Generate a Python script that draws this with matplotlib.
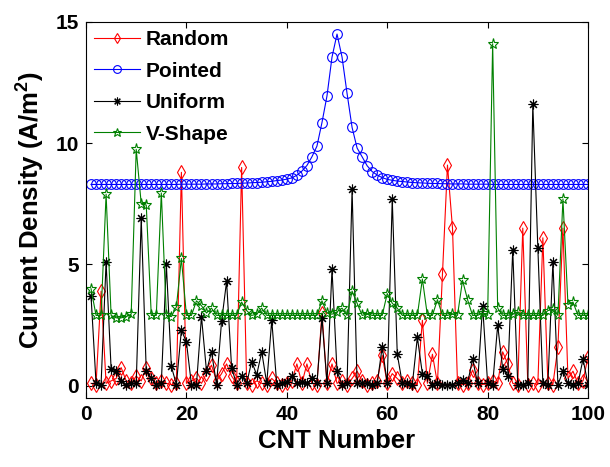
import matplotlib
matplotlib.use("Agg")
import matplotlib.pyplot as plt
import numpy as np

plt.rcParams['font.family'] = ['Liberation Sans', 'DejaVu Sans']
plt.rcParams['font.weight'] = 'bold'
plt.rcParams['mathtext.fontset'] = 'custom'
plt.rcParams['mathtext.rm'] = 'Liberation Sans:bold'
plt.rcParams['mathtext.bf'] = 'Liberation Sans:bold'
plt.rcParams['mathtext.it'] = 'Liberation Sans:bold'

cnt = list(range(1, 101))

random_vals = [0.1, 0.05, 3.9, 0.1, 0.2, 0.3, 0.75, 0.2, 0.1, 0.4,
               0.2, 0.75, 0.3, 0.1, 0.2, 0.1, 0.05, 0.1, 8.8, 0.1,
               0.2, 0.3, 0.1, 0.5, 0.85, 0.2, 0.5, 0.9, 0.4, 0.1,
               9.0, 0.1, 0.05, 0.2, 0.1, 0.05, 0.3, 0.1, 0.05, 0.1,
               0.2, 0.9, 0.1, 0.9, 0.1, 0.05, 3.0, 0.1, 0.9, 0.1,
               0.2, 0.05, 0.3, 0.6, 0.2, 0.05, 0.1, 0.2, 1.25, 0.1,
               0.5, 0.3, 0.1, 0.2, 0.1, 0.05, 2.7, 0.1, 1.3, 0.1,
               4.6, 9.1, 6.5, 0.1, 0.05, 0.1, 0.65, 0.1, 0.05, 0.1,
               0.2, 0.1, 1.4, 0.9, 0.1, 0.05, 6.5, 0.05, 0.1, 0.05,
               6.1, 0.1, 0.05, 1.6, 6.5, 0.3, 0.6, 0.1, 0.2, 1.2]

pointed_vals = [8.30, 8.30, 8.30, 8.30, 8.30, 8.30, 8.30, 8.30, 8.30, 8.30,
                8.30, 8.30, 8.30, 8.30, 8.30, 8.30, 8.30, 8.30, 8.31, 8.31,
                8.31, 8.31, 8.31, 8.32, 8.32, 8.32, 8.33, 8.33, 8.34, 8.34,
                8.35, 8.36, 8.37, 8.38, 8.39, 8.41, 8.43, 8.46, 8.48, 8.52,
                8.57, 8.68, 8.85, 9.08, 9.44, 9.88, 10.85, 11.95, 13.55, 14.5,
                13.55, 12.05, 10.65, 9.80, 9.44, 9.07, 8.83, 8.69, 8.58, 8.51,
                8.47, 8.44, 8.42, 8.40, 8.38, 8.37, 8.36, 8.35, 8.34, 8.34,
                8.33, 8.33, 8.32, 8.32, 8.32, 8.31, 8.31, 8.31, 8.31, 8.31,
                8.30, 8.30, 8.30, 8.30, 8.30, 8.30, 8.30, 8.30, 8.30, 8.30,
                8.30, 8.30, 8.30, 8.30, 8.30, 8.30, 8.30, 8.30, 8.30, 8.30]

uniform_vals = [3.7, 0.1, 0.05, 5.1, 0.7, 0.6, 0.2, 0.05, 0.1, 0.1,
                6.9, 0.6, 0.3, 0.05, 0.1, 5.0, 0.8, 0.05, 2.3, 1.8,
                0.05, 0.05, 2.85, 0.6, 1.4, 0.05, 2.65, 4.3, 0.75, 0.05,
                0.4, 0.1, 1.0, 0.45, 1.4, 0.1, 2.7, 0.05, 0.1, 0.15,
                0.4, 0.1, 0.15, 0.1, 0.3, 0.1, 2.8, 0.1, 4.8, 0.6,
                0.05, 0.1, 8.1, 0.1, 0.1, 0.1, 0.05, 0.1, 1.6, 0.1,
                7.7, 1.3, 0.1, 0.1, 0.05, 2.0, 0.5, 0.4, 0.05, 0.1,
                0.05, 0.05, 0.05, 0.1, 0.25, 0.1, 1.1, 0.1, 3.3, 0.1,
                0.05, 2.5, 0.7, 0.4, 5.6, 0.05, 0.05, 0.1, 11.6, 5.7,
                0.1, 0.05, 5.1, 0.05, 0.6, 0.1, 0.05, 0.1, 1.1, 0.05]

vshape_vals = [4.0, 2.9, 2.9, 7.9, 2.9, 2.8, 2.8, 2.85, 2.95, 9.75,
               7.5, 7.45, 2.9, 2.9, 7.95, 2.9, 2.85, 3.25, 5.25, 2.9,
               2.9, 3.5, 3.3, 3.0, 3.2, 2.9, 2.9, 2.9, 2.9, 2.9,
               3.45, 3.1, 2.9, 2.95, 3.2, 2.9, 2.9, 2.9, 2.9, 2.9,
               2.9, 2.9, 2.9, 2.9, 2.9, 2.9, 3.5, 3.0, 2.95, 3.05,
               3.2, 2.9, 3.9, 3.4, 2.9, 2.95, 2.9, 2.9, 2.9, 3.8,
               3.4, 3.2, 2.9, 2.9, 2.9, 2.9, 4.4, 2.9, 2.9, 3.55,
               2.9, 2.9, 2.95, 2.9, 4.35, 3.55, 2.9, 2.9, 3.0, 2.9,
               14.1, 3.2, 2.9, 2.9, 2.95, 3.05, 2.9, 2.9, 2.9, 2.9,
               2.9, 3.1, 3.15, 2.9, 7.7, 3.35, 3.45, 2.9, 2.9, 2.9]

x_ticks = [0, 20, 40, 60, 80, 100]
y_ticks = [0, 5, 10, 15]

fig = plt.figure(figsize=(6.10, 4.67), dpi=100)
ax = fig.add_axes([0.141, 0.148, 0.823, 0.805])

ax.plot(cnt, random_vals, color='red', lw=0.8, marker='d', ms=7,
        mfc='none', mec='red', mew=0.8, label='Random')
ax.plot(cnt, pointed_vals, color='blue', lw=0.8, marker='o', ms=7,
        mfc='none', mec='blue', mew=0.8, label='Pointed')
ax.plot(cnt, uniform_vals, color='black', lw=0.8, marker=(8, 2, 0), ms=7,
        mfc='none', mec='black', mew=0.8, label='Uniform')
ax.plot(cnt, vshape_vals, color='green', lw=0.8, marker='*', ms=8,
        mfc='none', mec='green', mew=0.8, label='V-Shape')

ax.set_xlim(0, 100)
ax.set_ylim(-0.5, 15)
ax.set_xticks(x_ticks)
ax.set_yticks(y_ticks)
ax.tick_params(direction='in', top=True, right=True, length=4,
               labelsize=15, pad=5)
for lab in ax.get_xticklabels() + ax.get_yticklabels():
    lab.set_fontweight('bold')

ax.set_xlabel('CNT Number', fontsize=18.5, fontweight='bold', labelpad=4)
ax.set_ylabel(r'Current Density (A/m$^{2}$)', fontsize=18.5, fontweight='bold', labelpad=6)

leg = ax.legend(loc='upper left', frameon=False, fontsize=15, handlelength=2.2,
                borderaxespad=0.0, labelspacing=0.6, handletextpad=0.25,
                markerscale=0.8)
for t in leg.get_texts():
    t.set_fontweight('bold')

fig.savefig('out.png', dpi=100)
